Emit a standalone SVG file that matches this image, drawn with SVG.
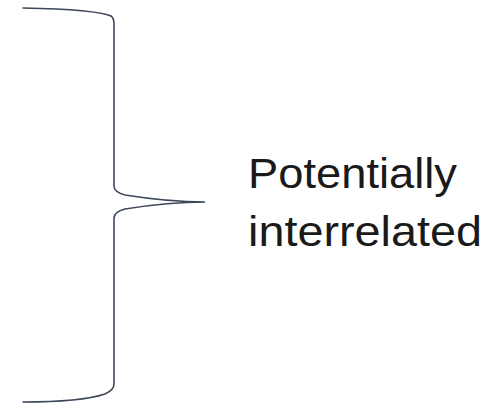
<svg xmlns="http://www.w3.org/2000/svg" width="497" height="405" viewBox="0 0 497 405">
  <style>
    .brace { fill: none; stroke: #3e4759; stroke-width: 1.6; stroke-linecap: round; }
    .label { font-family: "Liberation Sans", Arial, sans-serif; font-size: 42px; fill: #1a1a1a; }
  </style>
  <rect width="497" height="405" fill="#ffffff"/>
  <g id="connectors">
    <!-- right curly brace spanning the left column -->
    <path id="brace" class="brace" d="M23,8 C70,9 100,11 111,16 Q114,18 114,24 L114,186 Q114,192 125,195 C150,199 180,202 205,202 C180,202 150,205 125,209 Q114,212 114,218 L114,384 Q114,390 105,394 C90,399 60,402 23,402"/>
  </g>
  <g id="label-node">
    <text class="label" x="248" y="188" textLength="209" lengthAdjust="spacingAndGlyphs">Potentially</text>
    <text class="label" x="248" y="246" textLength="234" lengthAdjust="spacingAndGlyphs">interrelated</text>
  </g>
</svg>
